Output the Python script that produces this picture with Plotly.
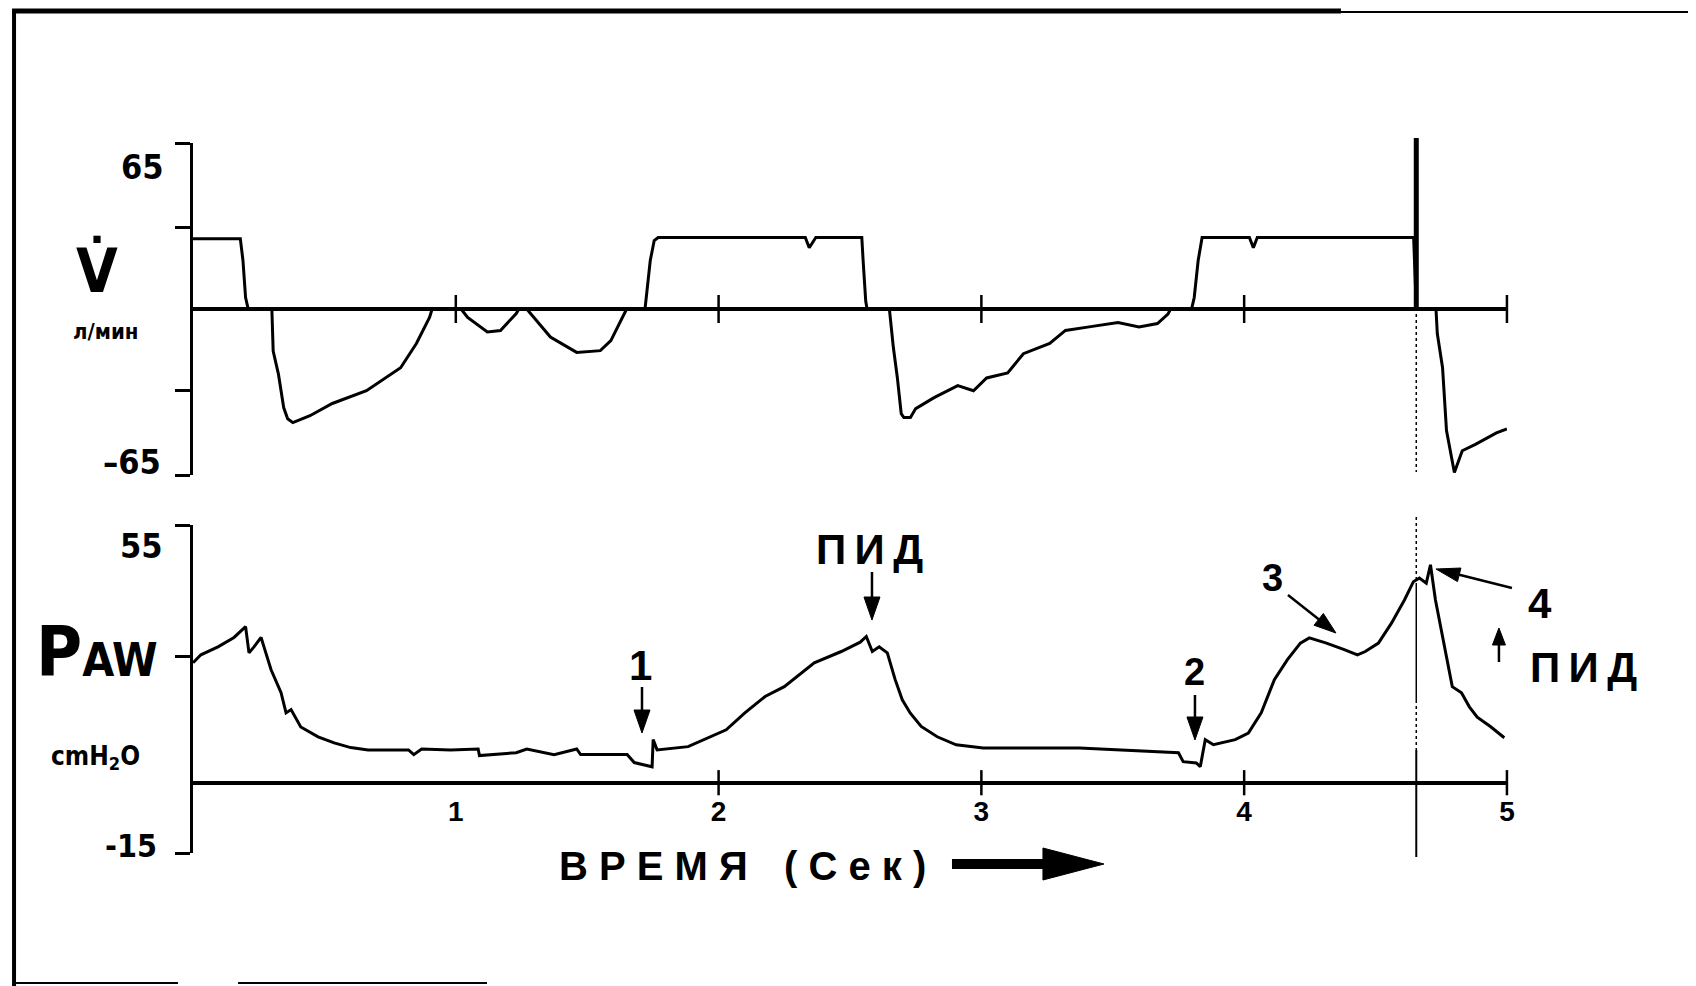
import math
import plotly.graph_objects as go

W, H = 1680, 986
OFF = 8           # page body margin: figure origin sits 8 px right/down of the window origin
KX = 1704 / 1696  # observed slight horizontal squeeze of the captured page

# ---------------- data ----------------
# Flow (V', л/мин) versus time (s)
flow_t = [0.00, 0.18, 0.19, 0.20, 0.21, 0.30, 0.305, 0.325, 0.345, 0.36, 0.38, 0.445, 0.53, 0.66,
          0.79, 0.85, 0.90, 0.91, 1.02, 1.045, 1.12, 1.17, 1.23, 1.24, 1.27, 1.36, 1.46, 1.55,
          1.59, 1.65, 1.72, 1.73, 1.74, 1.755, 1.77, 2.33, 2.345, 2.37, 2.545, 2.55, 2.56, 2.565,
          2.65, 2.665, 2.68, 2.695, 2.705, 2.73, 2.75, 2.82, 2.91, 2.97, 3.02, 3.10, 3.16, 3.26,
          3.32, 3.41, 3.52, 3.60, 3.67, 3.71, 3.72, 3.80, 3.81, 3.825, 3.84, 4.02, 4.035, 4.05,
          4.645, 4.655, 4.73, 4.735, 4.755, 4.77, 4.80, 4.83, 4.88, 4.96, 5.00]
flow_v = [27.5, 27.5, 19, 4.5, 0, 0, -16.5, -25.5, -38.6, -43, -44.5, -41.8, -37, -32,
          -23, -13.5, -3.3, 0, 0, -3.3, -9, -8.4, -1.8, 0, 0, -11, -17, -16.3,
          -12.4, 0, 0, 8.4, 19, 26.8, 28, 28, 24, 28, 28, 19, 3, 0,
          0, -15, -26.7, -41, -42.5, -42.5, -39, -34.7, -30, -32, -27, -25, -17.5, -13.5,
          -8.4, -7, -5.3, -7, -5.7, -2, 0, 0, 4.5, 19, 28, 28, 24, 28,
          28, 0, 0, -9.6, -23, -47.6, -64, -55.5, -53, -48.5, -47]

# Airway pressure (PAW, cmH2O) versus time (s)
paw_t = [0.00, 0.03, 0.095, 0.156, 0.20, 0.213, 0.232, 0.259, 0.27, 0.297, 0.335, 0.354, 0.373,
         0.41, 0.476, 0.537, 0.60, 0.666, 0.82, 0.84, 0.87, 0.98, 1.085, 1.09, 1.23, 1.27,
         1.374, 1.46, 1.475, 1.652, 1.679, 1.724, 1.747, 1.751, 1.766, 1.884, 1.957, 2.029,
         2.10, 2.177, 2.25, 2.364, 2.467, 2.539, 2.562, 2.585, 2.611, 2.642, 2.672, 2.699,
         2.729, 2.771, 2.832, 2.904, 3.007, 3.076, 3.373, 3.75, 3.768, 3.818, 3.833, 3.852,
         3.883, 3.966, 4.016, 4.065, 4.115, 4.164, 4.214, 4.248, 4.313, 4.381, 4.431, 4.461,
         4.511, 4.56, 4.61, 4.644, 4.667, 4.693, 4.709, 4.728, 4.743, 4.758, 4.792, 4.827,
         4.857, 4.887, 4.937, 4.99]
paw_v = [25.6, 27.3, 29, 31, 33.3, 27.7, 29, 31, 29, 24.1, 19.2, 14.9, 15.6,
         11.9, 9.8, 8.5, 7.5, 7.0, 7.0, 6.0, 7.2, 7.0, 7.2, 5.8, 6.4, 7.2,
         6.0, 7.2, 6.0, 6.0, 4.3, 3.8, 3.4, 9.2, 7.0, 7.7, 9.6, 11.3,
         14.9, 18.4, 20.5, 25.6, 28, 30, 31.2, 28, 29, 27.7, 22, 17.7,
         14.9, 12, 9.8, 8.1, 7.4, 7.4, 7.4, 6.4, 4.5, 4.2, 3.4, 9.2,
         8.1, 9.2, 10.6, 14.9, 22, 26.2, 29.8, 30.9, 29.8, 28.4, 27.3, 28,
         29.8, 34, 39, 42.9, 43.7, 42.6, 46.5, 39, 34.8, 29.8, 20.5, 19.2,
         16.2, 14, 12, 9.6]

time_ticks = [1, 2, 3, 4, 5]
time_labels = ["1", "2", "3", "4", "5"]
paw_axis_ticks = [2, 3, 4, 5]
flow_range = [-65, 65]
flow_tickvals = [-65, -32, 32, 65]
paw_range = [-15, 55]
paw_tickvals = [-15, 27, 55]
marker_t = 4.655

# ---------------- helpers (window pixels -> paper fractions) ----------------
def px(x):
    return (x * KX - OFF) / W

def py(y):
    return 1 - (y - OFF) / H

NARROW = "Liberation Sans Narrow, DejaVu Sans Condensed, Arial Narrow, Liberation Sans, Arial, sans-serif"
WIDE = "Liberation Sans, Arial, Helvetica, sans-serif"

xdom = [px(193), px(1507)]

fig = go.Figure()
fig.add_trace(go.Scatter(x=flow_t, y=flow_v, xaxis="x", yaxis="y", mode="lines",
                         line=dict(color="black", width=3), hoverinfo="skip"))
fig.add_trace(go.Scatter(x=paw_t, y=paw_v, xaxis="x2", yaxis="y2", mode="lines",
                         line=dict(color="black", width=3), hoverinfo="skip"))
# crossing tick marks on the time axes
fig.add_trace(go.Scatter(x=time_ticks, y=[0] * len(time_ticks), xaxis="x", yaxis="y",
                         mode="markers", cliponaxis=False, hoverinfo="skip",
                         marker=dict(symbol="line-ns", size=20, color="black",
                                     line=dict(width=2.5, color="black"))))
fig.add_trace(go.Scatter(x=paw_axis_ticks, y=[0] * len(paw_axis_ticks), xaxis="x2", yaxis="y2",
                         mode="markers", cliponaxis=False, hoverinfo="skip",
                         marker=dict(symbol="line-ns", size=18, color="black",
                                     line=dict(width=2.5, color="black"))))

axis_common = dict(showgrid=False, showline=True, linecolor="black", linewidth=2.5,
                   ticks="outside", ticklen=15, tickwidth=2.5, tickcolor="black",
                   showticklabels=False, zeroline=True, zerolinecolor="black",
                   zerolinewidth=3.5, fixedrange=True)

fig.update_layout(
    width=W, height=H,
    margin=dict(l=0, r=0, t=0, b=0),
    paper_bgcolor="white", plot_bgcolor="white",
    showlegend=False,
    xaxis=dict(domain=xdom, range=[0, 5], visible=False, anchor="y", fixedrange=True),
    yaxis=dict(domain=[py(475), py(143)], range=flow_range, tickvals=flow_tickvals,
               anchor="x", **axis_common),
    xaxis2=dict(domain=xdom, range=[0, 5], anchor="free", position=py(792),
                showline=False, ticks="", showgrid=False, zeroline=False,
                tickvals=time_ticks, ticktext=time_labels, fixedrange=True,
                tickfont=dict(family=WIDE, size=28, color="black", weight="bold")),
    yaxis2=dict(domain=[py(853), py(525)], range=paw_range, tickvals=paw_tickvals,
                anchor="x2", **axis_common),
)

# ---------------- text labels ----------------
def label(text, x, y, size, family=NARROW, bold=True):
    fig.add_annotation(text=text, x=px(x), y=py(y), xref="paper", yref="paper",
                       xanchor="center", yanchor="middle", showarrow=False,
                       font=dict(family=family, size=size, color="black",
                                 weight="bold" if bold else "normal"))

TS = "\u2009"
label("65", 142, 167, 34)
label("V\u0307", 97, 270, 60)
label("л/мин", 105, 331, 22)
label("\u201365", 132, 462, 34)
label("55", 141, 546, 34)
label("P<span style='font-size:46px'>AW</span>", 97, 652, 70)
label("cmH<sub>2</sub>O", 95, 757, 26)
label("-15", 131, 846, 32)
label(TS.join("ПИД"), 870, 549, 42, WIDE)
label("1", 641, 665, 42, WIDE)
label("2", 1195, 672, 38, WIDE)
label("3", 1273, 578, 38, WIDE)
label("4", 1540, 603, 42, WIDE)
label(TS.join("ПИД"), 1584, 667, 42, WIDE)
label("В Р Е М Я", 654, 866, 40, WIDE)
label("( С е к )", 855, 866, 40, WIDE)

shapes = []

# ---------------- pointer arrows (window pixel positions) ----------------
def arrow_px(x0, y0, x1, y1, head_len=23, head_w=16, lw=2.5):
    d = math.hypot(x1 - x0, y1 - y0)
    ux, uy = (x1 - x0) / d, (y1 - y0) / d
    bx, by = x1 - ux * head_len, y1 - uy * head_len
    nx, ny = -uy, ux
    shapes.append(dict(type="line", xref="paper", yref="paper",
                       x0=px(x0), y0=py(y0), x1=px(bx + ux * 2), y1=py(by + uy * 2),
                       line=dict(color="black", width=lw)))
    p1 = (bx + nx * head_w / 2, by + ny * head_w / 2)
    p2 = (bx - nx * head_w / 2, by - ny * head_w / 2)
    shapes.append(dict(type="path", xref="paper", yref="paper",
                       path=f"M {px(x1)} {py(y1)} L {px(p1[0])} {py(p1[1])} "
                            f"L {px(p2[0])} {py(p2[1])} Z",
                       fillcolor="black", line=dict(color="black", width=1)))

arrow_px(872, 572, 872, 620)
arrow_px(642, 687, 642, 733)
arrow_px(1195, 695, 1195, 740)
arrow_px(1288, 595, 1336, 633, head_len=22, head_w=15)
arrow_px(1512, 588, 1436, 569, head_len=24, head_w=14)
arrow_px(1499, 662, 1499, 628, head_len=17, head_w=13)

# ---------------- marker line at the breath boundary ----------------
shapes.append(dict(type="line", xref="x", yref="paper", x0=marker_t, x1=marker_t,
                   y0=py(138), y1=py(308), line=dict(color="black", width=5)))
shapes.append(dict(type="line", xref="x", yref="paper", x0=marker_t, x1=marker_t,
                   y0=py(308), y1=py(472), line=dict(color="black", width=1.5, dash="dot")))
shapes.append(dict(type="line", xref="x2", yref="paper", x0=marker_t, x1=marker_t,
                   y0=py(517), y1=py(584), line=dict(color="black", width=1.5, dash="dot")))
shapes.append(dict(type="line", xref="x2", yref="paper", x0=marker_t, x1=marker_t,
                   y0=py(584), y1=py(700), line=dict(color="black", width=1.5)))
shapes.append(dict(type="line", xref="x2", yref="paper", x0=marker_t, x1=marker_t,
                   y0=py(700), y1=py(750), line=dict(color="black", width=1.5, dash="dot")))
shapes.append(dict(type="line", xref="x2", yref="paper", x0=marker_t, x1=marker_t,
                   y0=py(750), y1=py(857), line=dict(color="black", width=2)))

# big time arrow
shapes.append(dict(type="line", xref="paper", yref="paper", x0=px(952), x1=px(1050),
                   y0=py(864), y1=py(864), line=dict(color="black", width=10)))
shapes.append(dict(type="path", xref="paper", yref="paper",
                   path=f"M {px(1043)} {py(848)} L {px(1104)} {py(864)} L {px(1043)} {py(880)} Z",
                   fillcolor="black", line=dict(color="black", width=1)))

# scan frame
shapes.append(dict(type="line", xref="paper", yref="paper", x0=px(14), x1=px(14),
                   y0=py(11), y1=py(986), line=dict(color="black", width=4)))
shapes.append(dict(type="line", xref="paper", yref="paper", x0=px(12), x1=px(1341),
                   y0=py(11), y1=py(11), line=dict(color="black", width=5)))
shapes.append(dict(type="line", xref="paper", yref="paper", x0=px(1341), x1=px(1700),
                   y0=py(12), y1=py(12), line=dict(color="black", width=2)))
shapes.append(dict(type="line", xref="paper", yref="paper", x0=px(16), x1=px(178),
                   y0=py(983), y1=py(983), line=dict(color="black", width=2)))
shapes.append(dict(type="line", xref="paper", yref="paper", x0=px(238), x1=px(487),
                   y0=py(983), y1=py(983), line=dict(color="black", width=2)))

fig.update_layout(shapes=shapes)

fig.write_html("out.html")
